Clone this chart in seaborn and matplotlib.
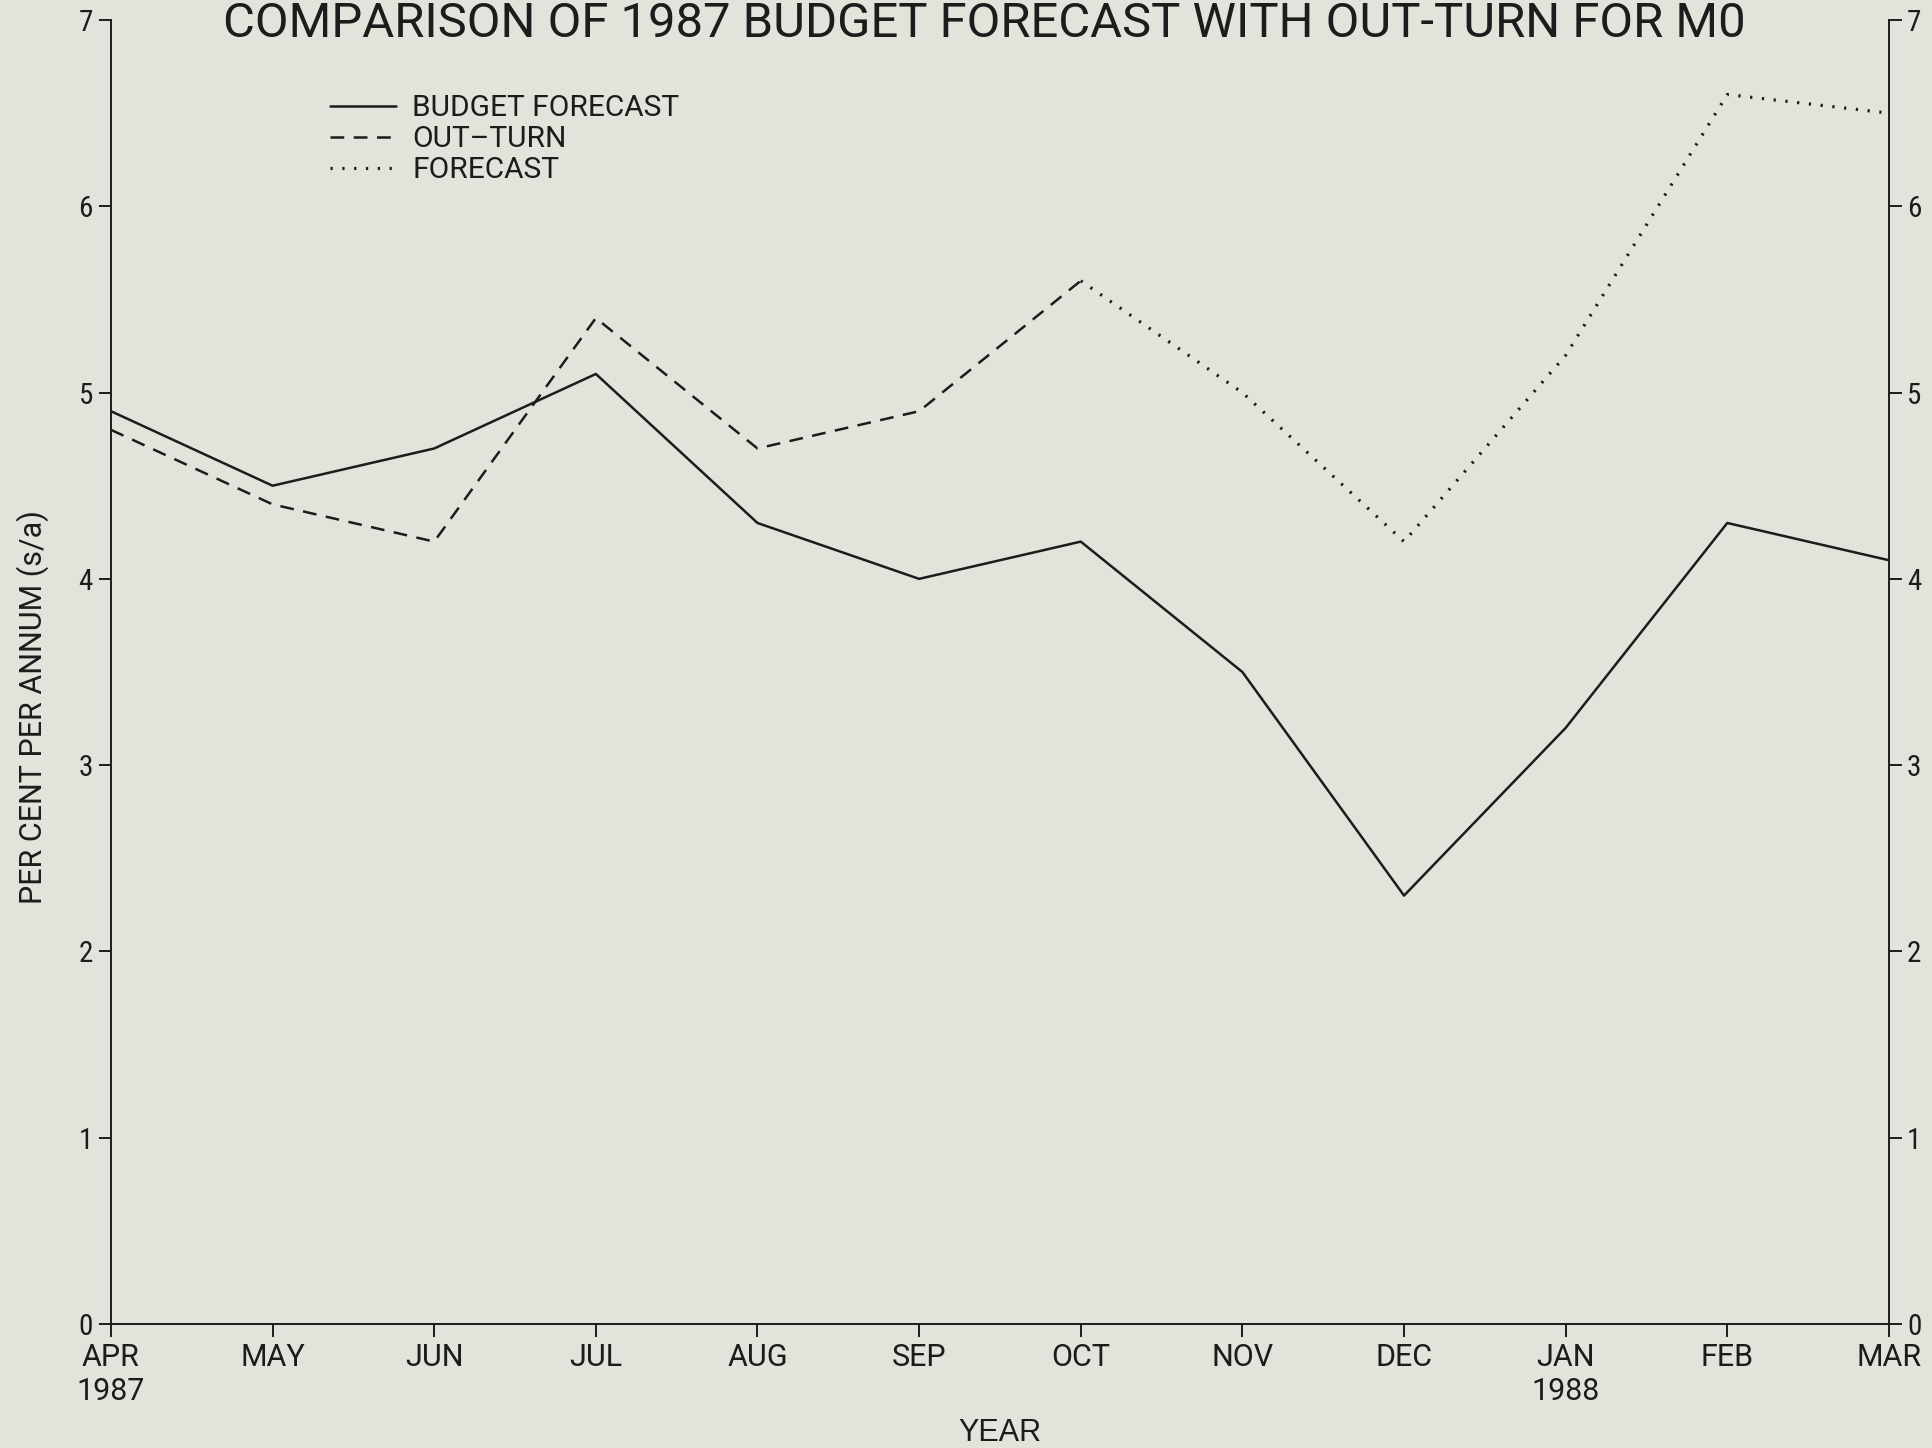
import matplotlib
matplotlib.use("Agg")
import matplotlib.pyplot as plt
from matplotlib.lines import Line2D
import seaborn as sns
import pandas as pd

# Monthly figures, April 1987 to March 1988 (per cent per annum, s/a)
months = ["APR\n1987", "MAY", "JUN", "JUL", "AUG", "SEP", "OCT",
          "NOV", "DEC", "JAN\n1988", "FEB", "MAR"]
budget_forecast = [4.9, 4.5, 4.7, 5.1, 4.3, 4.0, 4.2, 3.5, 2.3, 3.2, 4.3, 4.1]
out_turn = [4.8, 4.4, 4.2, 5.4, 4.7, 4.9, 5.6]            # APR - OCT
forecast = [5.6, 5.0, 4.2, 5.2, 6.6, 6.5]                 # OCT - MAR
forecast_start = 6
y_ticks = [0, 1, 2, 3, 4, 5, 6, 7]

paper = "#e2e4dc"
ink = "#1c1c1c"

sns.set_theme(style="ticks")
narrow = ["Roboto Condensed", "Roboto", "DejaVu Sans"]
regular = ["Roboto", "DejaVu Sans"]
wide = ["Liberation Sans", "DejaVu Sans"]
plt.rcParams["font.family"] = regular

fig = plt.figure(figsize=(19.33, 14.48), dpi=100, facecolor=paper)
ax = fig.add_axes([0.0574, 0.0856, 0.9198, 0.9006])
ax.set_facecolor(paper)

bf = pd.DataFrame({"pos": range(len(budget_forecast)), "value": budget_forecast})
ot = pd.DataFrame({"pos": range(len(out_turn)), "value": out_turn})
fc = pd.DataFrame({"pos": range(forecast_start, forecast_start + len(forecast)),
                   "value": forecast})

lw = 1.8
dot_lw = 2.3
dash_style = (0, (5.5, 3.8))
dot_style = (0, (0.7, 3.0))
sns.lineplot(data=bf, x="pos", y="value", ax=ax, color=ink, linewidth=lw,
             linestyle="-")
sns.lineplot(data=ot, x="pos", y="value", ax=ax, color=ink, linewidth=lw,
             dashes=False, linestyle=dash_style)
sns.lineplot(data=fc, x="pos", y="value", ax=ax, color=ink, linewidth=dot_lw,
             dashes=False, linestyle=dot_style)

ax.set_xlim(0, len(months) - 1)
ax.set_ylim(0, 7)
ax.set_xticks(range(len(months)))
ax.set_xticklabels(months, fontsize=22, family=regular, linespacing=1.2)
ax.set_yticks(y_ticks)
ax.set_yticklabels([str(t) for t in y_ticks], fontsize=21, family=narrow)

for side in ["left", "right", "bottom"]:
    ax.spines[side].set_color(ink)
    ax.spines[side].set_linewidth(1.4)
ax.spines["top"].set_visible(False)

ax.tick_params(axis="x", direction="out", length=9, width=1.4, color=ink,
               labelcolor=ink, pad=5)
ax.tick_params(axis="y", direction="out", length=9, width=1.4, color=ink,
               labelcolor=ink, pad=4, left=True, right=True,
               labelleft=True, labelright=True)

ax.set_xlabel("YEAR", fontsize=22, family=wide, color=ink, va="top")
ax.xaxis.set_label_coords(0.5, -0.072)
ax.set_ylabel("PER CENT PER ANNUM (s/a)", fontsize=22, family=regular,
              color=ink)
ax.yaxis.set_label_coords(-0.035, 0.4735)

fig.text(0.509, 1 - 37 / 1448,
         "COMPARISON OF 1987 BUDGET FORECAST WITH OUT-TURN FOR M0",
         ha="center", va="baseline", fontsize=35.3, family=regular, color=ink)

handles = [
    Line2D([], [], color=ink, linewidth=lw, linestyle="-"),
    Line2D([], [], color=ink, linewidth=lw, linestyle=dash_style),
    Line2D([], [], color=ink, linewidth=dot_lw, linestyle=dot_style),
]
labels = ["BUDGET FORECAST", "OUT\u2013TURN", "FORECAST"]
leg = ax.legend(handles, labels, loc="upper left",
                bbox_to_anchor=(330 / 1933, 1 - 94 / 1448),
                bbox_transform=fig.transFigure, frameon=False,
                fontsize=21.5, handlelength=2.2, handletextpad=0.55,
                labelspacing=0.1, borderpad=0, borderaxespad=0)
for t in leg.get_texts():
    t.set_color(ink)
    t.set_family(regular)

fig.savefig("out.png", dpi=100, facecolor=paper)
